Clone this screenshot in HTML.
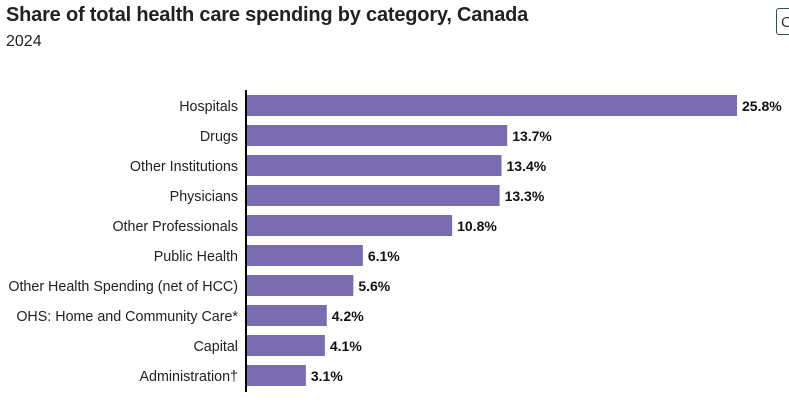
<!DOCTYPE html>
<html><head><meta charset="utf-8"><style>
body{margin:0;width:789px;height:403px;overflow:hidden;background:#fff;font-family:"Liberation Sans",sans-serif;position:relative}
#title{position:absolute;left:6px;top:4px;font-size:20px;font-weight:bold;color:#222;letter-spacing:-0.2px}
#sub{position:absolute;left:6px;top:33px;font-size:16px;color:#222}
#btn{position:absolute;left:776px;top:8px;width:24px;height:27px;border:1px solid #2f4f4f;border-radius:3px;font-size:15px;line-height:27px;padding-left:4px;color:#333;box-sizing:border-box}
</style></head><body>
<div id="title">Share of total health care spending by category, Canada</div>
<div id="sub">2024</div>
<div id="btn">C</div>
<svg id="chart" width="789" height="403" style="position:absolute;left:0;top:0"></svg>
<script>
const categories=["Hospitals","Drugs","Other Institutions","Physicians","Other Professionals","Public Health","Other Health Spending (net of HCC)","OHS: Home and Community Care*","Capital","Administration\u2020"];
const values=[25.8,13.7,13.4,13.3,10.8,6.1,5.6,4.2,4.1,3.1];
const valueLabels=["25.8%","13.7%","13.4%","13.3%","10.8%","6.1%","5.6%","4.2%","4.1%","3.1%"];
const svg=document.getElementById('chart');
const NS='http://www.w3.org/2000/svg';
const x0=247,scale=(737-247)/25.8;
const xs=v=>x0+v*scale;
const ys=i=>95+i*30;
categories.forEach((c,i)=>{
  const r=document.createElementNS(NS,'rect');
  r.setAttribute('x',x0);r.setAttribute('y',ys(i));
  r.setAttribute('width',xs(values[i])-x0);r.setAttribute('height',21);
  r.setAttribute('fill','#7a6cb0');
  
  
  svg.appendChild(r);
  const t=document.createElementNS(NS,'text');
  t.setAttribute('x',238);t.setAttribute('y',ys(i)+16);
  t.setAttribute('text-anchor','end');t.setAttribute('font-size','14.3');t.setAttribute('fill','#222');
  t.textContent=c;
  
  
  svg.appendChild(t);
  const v=document.createElementNS(NS,'text');
  v.setAttribute('x',xs(values[i])+5);v.setAttribute('y',ys(i)+16);
  v.setAttribute('font-size','14');v.setAttribute('font-weight','bold');v.setAttribute('fill','#111');
  v.textContent=valueLabels[i];
  
  
  svg.appendChild(v);
});
const ax=document.createElementNS(NS,'line');
ax.setAttribute('x1',246);ax.setAttribute('x2',246);ax.setAttribute('y1',90);ax.setAttribute('y2',392);
ax.setAttribute('stroke','#000');ax.setAttribute('stroke-width','2');


svg.appendChild(ax);
</script>
</body></html>
